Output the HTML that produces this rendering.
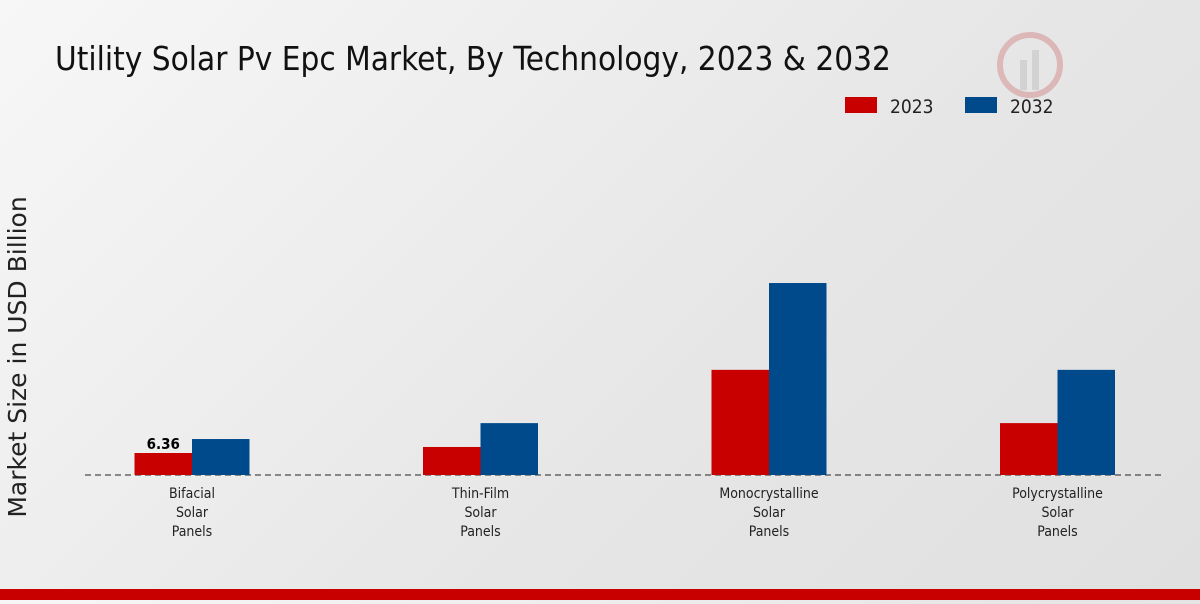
<!DOCTYPE html>
<html><head><meta charset="utf-8"><style>
body{margin:0;width:1200px;height:600px;overflow:hidden;font-family:"DejaVu Sans Condensed","Liberation Sans",sans-serif;background:linear-gradient(135deg,#f7f7f7 0%,#e6e6e6 60%,#e0e0e0 100%);}
</style></head><body>
<svg id="chart" width="1200" height="600">
<text x="55" y="70" font-size="33" fill="#111" font-family="DejaVu Sans Condensed, Liberation Sans, sans-serif">Utility Solar Pv Epc Market, By Technology, 2023 &amp; 2032</text>
<text transform="translate(26,357) rotate(-90)" text-anchor="middle" font-size="25" fill="#222" font-family="DejaVu Sans, sans-serif">Market Size in USD Billion</text>
<g>
<rect x="845" y="97" width="32" height="16" fill="#c80000"/>
<text x="890" y="113" font-size="19" fill="#222">2023</text>
<rect x="965" y="97" width="32" height="16" fill="#004a8c"/>
<text x="1010" y="113" font-size="19" fill="#222">2032</text>
</g>
<g opacity="0.25">
<circle cx="1030" cy="65" r="30" fill="none" stroke="#c03030" stroke-width="6"/>
<rect x="1020" y="60" width="7" height="30" fill="#999"/><rect x="1032" y="50" width="7" height="40" fill="#999"/>
</g>
<line x1="85" y1="475" x2="1165" y2="475" stroke="#222" stroke-dasharray="6,4"/>
<g id="bars"></g>
<rect x="0" y="589" width="1200" height="11" fill="#c80000"/>
</svg>
<script>
const categories=[["Bifacial","Solar","Panels"],["Thin-Film","Solar","Panels"],["Monocrystalline","Solar","Panels"],["Polycrystalline","Solar","Panels"]];
const values2023=[6.36,8.1,30.4,15.0];
const values2032=[10.4,15.0,55.5,30.4];
const labels2023=["6.36","","",""];
const base=475,scale=22/6.36,x0=192,step=288.5,bw=57.5;
const y=v=>base-v*scale;
const g=document.getElementById('bars');
const ns='http://www.w3.org/2000/svg';
categories.forEach((c,i)=>{
 const cx=x0+i*step;
 [[values2023,'#c80000',cx-bw,'2023'],[values2032,'#004a8c',cx,'2032']].forEach(([arr,col,x,s])=>{
  const r=document.createElementNS(ns,'rect');
  r.setAttribute('x',x);r.setAttribute('y',y(arr[i]));r.setAttribute('width',bw);r.setAttribute('height',arr[i]*scale);r.setAttribute('fill',col);
  
  
  g.appendChild(r);
 });
 if(labels2023[i]){
  const t=document.createElementNS(ns,'text');
  t.setAttribute('x',cx-bw/2);t.setAttribute('y',y(values2023[i])-4);t.setAttribute('text-anchor','middle');t.setAttribute('font-size','15');t.setAttribute('font-weight','bold');t.textContent=labels2023[i];
  
  
  g.appendChild(t);
 }
 c.forEach((line,j)=>{
  const t=document.createElementNS(ns,'text');
  t.setAttribute('x',cx);t.setAttribute('y',498+j*19);t.setAttribute('text-anchor','middle');t.setAttribute('font-size','14');t.setAttribute('fill','#222');t.textContent=line;
  
  
  g.appendChild(t);
 });
});
</script>
</body></html>
